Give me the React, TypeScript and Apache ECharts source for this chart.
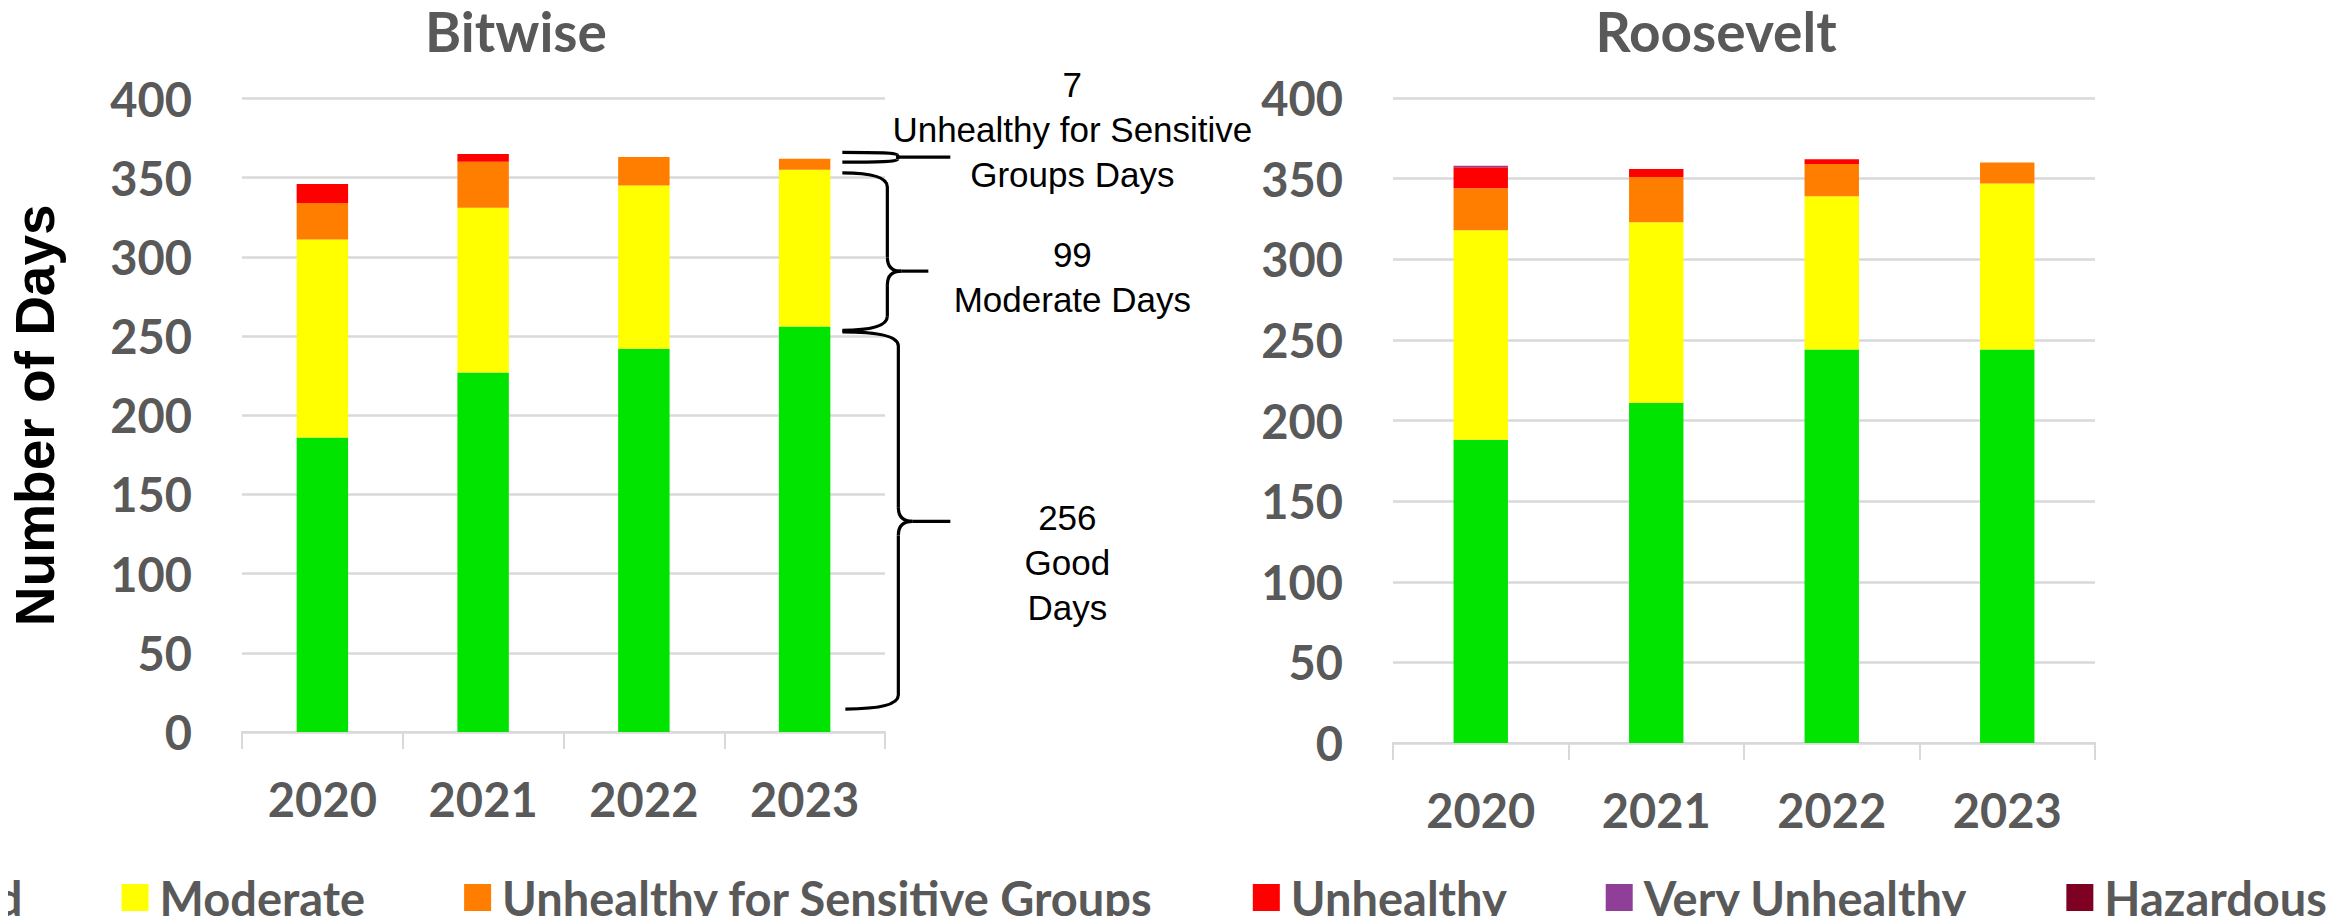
import React, { useEffect, useRef } from "react";
import * as echarts from "echarts";

const years = ["2020", "2021", "2022", "2023"];
const categories = [
  "Good",
  "Moderate",
  "Unhealthy for Sensitive Groups",
  "Unhealthy",
  "Very Unhealthy",
  "Hazardous",
];
const colors = ["#00E400", "#FFFF00", "#FF7E00", "#FF0000", "#8F3F97", "#7E0023"];

const bitwiseGood = [186, 227, 242, 256];
const bitwiseModerate = [125, 104, 103, 99];
const bitwiseUSG = [23, 29, 18, 7];
const bitwiseUnhealthy = [12, 5, 0, 0];
const bitwiseVeryUnhealthy = [0, 0, 0, 0];
const bitwiseHazardous = [0, 0, 0, 0];

const rooseveltGood = [188, 211, 244, 244];
const rooseveltModerate = [130, 112, 95, 103];
const rooseveltUSG = [26, 28, 20, 13];
const rooseveltUnhealthy = [13, 5, 3, 0];
const rooseveltVeryUnhealthy = [1, 0, 0, 0];
const rooseveltHazardous = [0, 0, 0, 0];

const chartTitles = ["Bitwise", "Roosevelt"];
const yAxisTitle = "Number of Days";

// Bracket annotations on the Bitwise 2023 bar: value ranges, tip value, text
const annoFrom = [359.8, 253.6, 14.5];
const annoTo = [366, 353, 252.6];
const annoTip = [363, 291, 133];
const annoTextMid = [380.4, 287, 107];
const annoText = [
  "7\nUnhealthy for Sensitive\nGroups Days",
  "99\nModerate Days",
  "256\nGood\nDays",
];

const bitwiseData = [
  bitwiseGood,
  bitwiseModerate,
  bitwiseUSG,
  bitwiseUnhealthy,
  bitwiseVeryUnhealthy,
  bitwiseHazardous,
];
const rooseveltData = [
  rooseveltGood,
  rooseveltModerate,
  rooseveltUSG,
  rooseveltUnhealthy,
  rooseveltVeryUnhealthy,
  rooseveltHazardous,
];

const GRAY = "#595959";
const LINE = "#D9D9D9";
const labelFont = { fontFamily: "Lato", fontWeight: "bold" as const, color: GRAY };

function braceElements(x0: number, xv: number, xt: number, yTop: number, yBot: number, ym: number, x0b: number) {
  const h = yBot - yTop;
  const r = Math.min(14, h / 4);
  const st = { stroke: "#000", lineWidth: 3.2, fill: "none" };
  const els: any[] = [];
  els.push({ type: "bezierCurve", shape: { x1: x0, y1: yTop, x2: xv, y2: yTop + r, cpx1: xv, cpy1: yTop }, style: st, silent: true });
  els.push({ type: "line", shape: { x1: xv, y1: yTop + r, x2: xv, y2: ym - r }, style: st, silent: true });
  els.push({ type: "bezierCurve", shape: { x1: xv, y1: ym - r, x2: xv + r, y2: ym, cpx1: xv, cpy1: ym }, style: st, silent: true });
  els.push({ type: "bezierCurve", shape: { x1: xv, y1: ym + r, x2: xv + r, y2: ym, cpx1: xv, cpy1: ym }, style: st, silent: true });
  els.push({ type: "line", shape: { x1: xv + r, y1: ym, x2: xt, y2: ym }, style: st, silent: true });
  els.push({ type: "line", shape: { x1: xv, y1: ym + r, x2: xv, y2: yBot - r }, style: st, silent: true });
  els.push({ type: "bezierCurve", shape: { x1: xv, y1: yBot - r, x2: x0b, y2: yBot, cpx1: xv, cpy1: yBot }, style: st, silent: true });
  return els;
}

export default function App() {
  const ref = useRef<HTMLDivElement>(null);

  useEffect(() => {
    if (!ref.current) return;
    const chart = echarts.init(ref.current, undefined, { renderer: "svg" });

    const mkSeries = (data: number[][], idx: number, bw: string) =>
      categories.map((name, i) => ({
        name,
        type: "bar",
        stack: "s" + idx,
        xAxisIndex: idx,
        yAxisIndex: idx,
        barWidth: bw,
        itemStyle: { color: colors[i] },
        data: data[i],
      }));

    const xAxisBase = (gridIndex: number) => ({
      type: "category",
      gridIndex,
      data: years,
      axisLine: { lineStyle: { color: LINE, width: 2 } },
      axisTick: { show: true, length: 17, lineStyle: { color: LINE, width: 2 } },
      axisLabel: { ...labelFont, fontSize: 47, margin: 43 },
    });
    const yAxisBase = (gridIndex: number) => ({
      type: "value",
      gridIndex,
      min: 0,
      max: 400,
      interval: 50,
      axisLine: { show: false },
      axisTick: { show: false },
      splitLine: { lineStyle: { color: LINE, width: 2.5 } },
      axisLabel: { ...labelFont, fontSize: 47, margin: 50 },
    });

    chart.setOption({
      animation: false,
      backgroundColor: "#ffffff",
      title: [
        { text: chartTitles[0], left: 516, textAlign: "center", top: 3, padding: 0, textStyle: { ...labelFont, fontSize: 55 } },
        { text: chartTitles[1], left: 1716, textAlign: "center", top: 3, padding: 0, textStyle: { ...labelFont, fontSize: 55 } },
      ],
      legend: {
        data: categories,
        left: -130,
        top: 874,
        width: 2800,
        icon: "rect",
        itemWidth: 27,
        itemHeight: 27,
        itemGap: 99,
        padding: 0,
        textStyle: { ...labelFont, fontSize: 47, padding: [0, 0, 0, 6] },
      },
      grid: [
        { left: 242, right: 2348 - 885, top: 98.5, bottom: 924 - 732 },
        { left: 1393, right: 2348 - 2095, top: 98, bottom: 924 - 743 },
      ],
      xAxis: [xAxisBase(0), xAxisBase(1)],
      yAxis: [
        {
          ...yAxisBase(0),
          name: yAxisTitle,
          nameLocation: "middle",
          nameGap: 180,
          nameTextStyle: { fontFamily: "Liberation Sans", fontWeight: "bold", fontSize: 55, color: "#000" },
        },
        yAxisBase(1),
      ],
      series: [...mkSeries(bitwiseData, 0, "32%"), ...mkSeries(rooseveltData, 1, "31%")],
    });

    // annotations placed from axis values
    const p3 = chart.convertToPixel({ gridIndex: 0 } as any, [3, 0]) as number[];
    const p2 = chart.convertToPixel({ gridIndex: 0 } as any, [2, 0]) as number[];
    const catW = p3[0] - p2[0];
    const barRight = p3[0] + catW * 0.16;
    const yOf = (v: number) => (chart.convertToPixel({ gridIndex: 0 } as any, [3, v]) as number[])[1];

    const offs = [
      { x0: 12, xv: 67, xt: 120, x0b: 12 },
      { x0: 12, xv: 57, xt: 98, x0b: 12 },
      { x0: 12, xv: 68, xt: 120, x0b: 15 },
    ];
    const textX = [1072, 1072, 1067];
    const graphic: any[] = [];
    for (let i = 0; i < annoFrom.length; i++) {
      const o = offs[i];
      graphic.push(
        ...braceElements(
          barRight + o.x0,
          barRight + o.xv,
          barRight + o.xt,
          yOf(annoTo[i]),
          yOf(annoFrom[i]),
          yOf(annoTip[i]),
          barRight + o.x0b
        )
      );
      graphic.push({
        type: "text",
        x: textX[i] - 830 + barRight,
        y: yOf(annoTextMid[i]),
        silent: true,
        style: {
          text: annoText[i],
          fill: "#000",
          fontSize: 35,
          fontFamily: "Liberation Sans",
          align: "center",
          verticalAlign: "middle",
          lineHeight: 45,
        },
      });
    }
    chart.setOption({ graphic });

    return () => chart.dispose();
  }, []);

  return <div ref={ref} style={{ width: 2348, height: 924, margin: -8 }} />;
}
